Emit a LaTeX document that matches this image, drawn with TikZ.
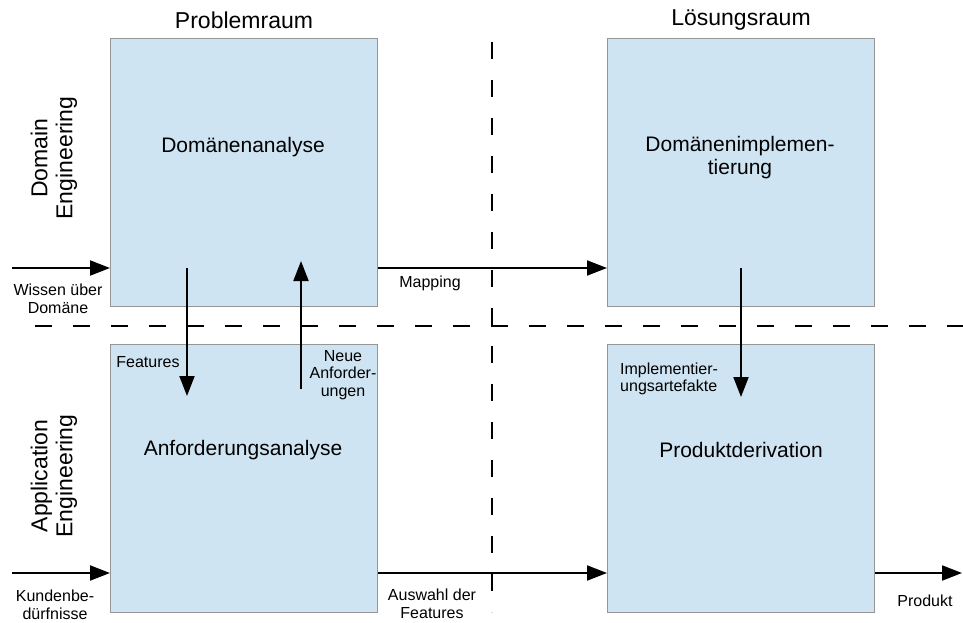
\documentclass[tikz,border=0pt]{standalone}
\usepackage{fontspec}
\setmainfont{Liberation Sans}
\usetikzlibrary{arrows.meta}
\definecolor{boxfill}{RGB}{207,228,242}
\definecolor{boxline}{RGB}{150,150,150}
\begin{document}
\begin{tikzpicture}[x=1pt,y=-1pt,
  area/.style={draw=boxline, line width=1pt, fill=boxfill,
    minimum width=267pt, minimum height=268pt, inner sep=0pt, anchor=north west},
  flow/.style={line width=2pt, -{Triangle[length=20pt,width=15pt]}},
  sep/.style={line width=2pt, dash pattern=on 17pt off 21pt},
  head/.style={font=\fontsize{23}{25}\selectfont, align=center, inner sep=0pt},
  title/.style={font=\fontsize{21}{23}\selectfont, align=center, inner sep=0pt},
  small/.style={font=\fontsize{16}{17.5}\selectfont, align=center, inner sep=0pt}]

\useasboundingbox (0,0) rectangle (963,623);

% the four areas
\node[area] (da) at (110,38) {};
\node[area] (di) at (607,38) {};
\node[area] (aa) at (110,344) {};
\node[area] (pd) at (607,344) {};

% separators between domain/application and problem/solution
\coordinate (hs) at (35,326);
\coordinate (he) at (963,326);
\coordinate (vs) at (492,42);
\coordinate (ve) at (492,612);
\draw[sep] (hs) -- (he);
\draw[sep] (vs) -- (ve);

% headings
\node[head] (hp) at (244,20) {Problemraum};
\node[head] (hl) at (741,20) {Lösungsraum};
\node[head, rotate=90] (hd) at (54,158) {Domain\\Engineering};
\node[head, rotate=90] (ha) at (54,476) {Application\\Engineering};

% area titles
\node[title] (tda) at (243,147) {Domänenanalyse};
\node[title] (tdi) at (740,158) {Domänenimplemen-\\tierung};
\node[title] (taa) at (243,450) {Anforderungsanalyse};
\node[title] (tpd) at (741,450) {Produktderivation};

% flows
\coordinate (w0) at (12,268);
\coordinate (k0) at (12,573);
\coordinate (out) at (962,573);
\draw[flow] (w0) -- (w0 -| da.west);
\draw[flow] (w0 -| da.east) -- (w0 -| di.west);
\draw[flow] (k0) -- (k0 -| aa.west);
\draw[flow] (k0 -| aa.east) -- (k0 -| pd.west);
\draw[flow] (k0 -| pd.east) -- (out);

\coordinate (f0) at (187,268);
\coordinate (f1) at (187,396);
\coordinate (n0) at (301,389);
\coordinate (n1) at (301,261);
\coordinate (i0) at (741,268);
\coordinate (i1) at (741,397);
\draw[flow] (f0) -- (f1);
\draw[flow] (n0) -- (n1);
\draw[flow] (i0) -- (i1);

% flow labels
\node[small] (lw) at (58,299) {Wissen über\\Domäne};
\node[small] (lm) at (430,283) {Mapping};
\node[small] (lf) at (148,362) {Features};
\node[small] (ln) at (343,375) {Neue\\Anforder-\\ungen};
\node[small, align=left, anchor=west] (li) at (620,379) {Implementier-\\ungsartefakte};
\node[small] (lk) at (55,605) {Kundenbe-\\dürfnisse};
\node[small] (ls) at (432,604) {Auswahl der\\Features};
\node[small] (lp) at (925,601) {Produkt};
\end{tikzpicture}
\end{document}
